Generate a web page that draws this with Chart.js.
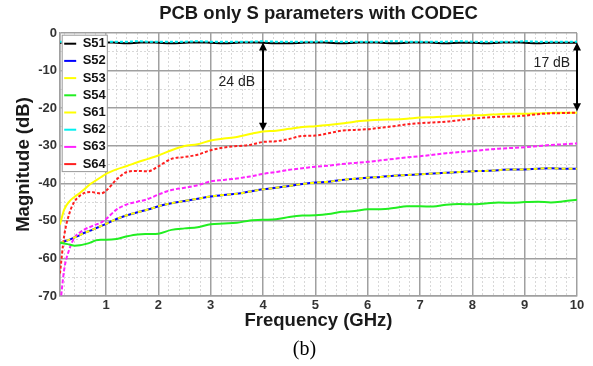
<!DOCTYPE html>
<html><head><meta charset="utf-8">
<script src="https://cdn.jsdelivr.net/npm/chart.js@4.4.0/dist/chart.umd.min.js"></script>
<style>html,body{margin:0;padding:0;background:#fff;}#wrap{width:593px;height:366px;}</style>
</head><body><div id="wrap"><canvas id="c" width="593" height="366"></canvas></div>
<script>
// ---- data ----
const freqGHz = [0.12,0.2,0.3,0.4,0.5,0.6,0.7,0.8,0.9,1.0,1.2,1.4,1.6,1.8,2.0,2.25,2.5,2.75,3.0,3.25,3.5,3.75,4.0,4.25,4.5,4.75,5.0,5.25,5.5,5.75,6.0,6.25,6.5,6.75,7.0,7.25,7.5,7.75,8.0,8.25,8.5,8.75,9.0,9.25,9.5,9.75,10.0];
const s51 = [-2.6,-2.6,-2.7,-2.6,-2.5,-2.6,-2.7,-2.7,-2.6,-2.5,-2.6,-2.7,-2.6,-2.5,-2.6,-2.7,-2.6,-2.5,-2.6,-2.7,-2.6,-2.5,-2.6,-2.7,-2.7,-2.6,-2.5,-2.6,-2.7,-2.6,-2.5,-2.6,-2.7,-2.6,-2.5,-2.6,-2.7,-2.6,-2.6,-2.7,-2.6,-2.5,-2.6,-2.7,-2.6,-2.6,-2.6];
const s52 = [-56.0,-55.5,-55.0,-54.4,-53.8,-53.1,-52.6,-52.0,-51.4,-50.8,-49.5,-48.5,-47.7,-47.0,-46.1,-45.3,-44.7,-44.1,-43.5,-43.1,-42.8,-42.2,-41.6,-41.2,-40.7,-40.2,-39.8,-39.6,-39.1,-38.8,-38.5,-38.3,-38.0,-37.8,-37.6,-37.4,-37.2,-37.0,-36.8,-36.7,-36.5,-36.3,-36.3,-36.1,-36.0,-36.1,-36.1];
const s53 = [-51.0,-47.0,-44.8,-43.6,-42.6,-41.4,-40.2,-39.3,-38.4,-37.5,-36.3,-35.4,-34.4,-33.5,-32.6,-31.2,-30.1,-29.6,-28.6,-28.1,-27.7,-26.9,-26.2,-26.0,-25.5,-25.0,-24.8,-24.5,-24.1,-23.6,-23.3,-23.1,-23.0,-22.8,-22.5,-22.4,-22.2,-22.0,-21.9,-21.8,-21.6,-21.5,-21.5,-21.4,-21.3,-21.2,-21.2];
const s54 = [-55.8,-56.0,-56.3,-56.6,-56.5,-56.2,-55.8,-55.2,-55.0,-55.0,-54.8,-54.1,-53.6,-53.5,-53.4,-52.4,-52.0,-51.7,-50.9,-50.7,-50.5,-49.9,-49.7,-49.6,-49.0,-48.6,-48.5,-48.2,-47.6,-47.4,-46.9,-46.9,-46.6,-46.1,-46.1,-46.2,-45.7,-45.5,-45.6,-45.4,-45.1,-45.2,-45.0,-44.9,-45.1,-44.8,-44.4];
const s61 = [-56.0,-55.5,-55.0,-54.4,-53.8,-53.1,-52.6,-52.0,-51.4,-50.8,-49.5,-48.5,-47.7,-47.0,-46.1,-45.3,-44.7,-44.1,-43.5,-43.1,-42.8,-42.2,-41.6,-41.2,-40.7,-40.2,-39.8,-39.6,-39.1,-38.8,-38.5,-38.3,-38.0,-37.8,-37.6,-37.4,-37.2,-37.0,-36.8,-36.7,-36.5,-36.3,-36.3,-36.1,-36.0,-36.1,-36.1];
const s62 = [-2.3,-2.3,-2.3,-2.2,-2.3,-2.3,-2.3,-2.2,-2.3,-2.3,-2.3,-2.3,-2.2,-2.3,-2.3,-2.3,-2.3,-2.2,-2.3,-2.3,-2.3,-2.3,-2.2,-2.3,-2.3,-2.3,-2.3,-2.2,-2.3,-2.3,-2.3,-2.3,-2.2,-2.3,-2.3,-2.3,-2.3,-2.2,-2.3,-2.3,-2.3,-2.3,-2.2,-2.3,-2.3,-2.3,-2.3];
const s63 = [-73.0,-63.0,-57.5,-54.4,-53.1,-52.2,-51.6,-51.0,-50.5,-49.5,-47.0,-45.6,-44.9,-44.2,-43.0,-41.8,-41.2,-40.5,-39.5,-39.1,-38.7,-38.2,-37.5,-37.0,-36.4,-36.0,-35.6,-35.3,-34.9,-34.6,-34.3,-33.9,-33.5,-33.1,-32.8,-32.4,-32.0,-31.7,-31.4,-31.1,-30.8,-30.6,-30.4,-30.1,-29.8,-29.6,-29.4];
const s64 = [-64.0,-54.0,-48.0,-44.8,-43.3,-42.5,-42.3,-42.5,-42.7,-42.0,-39.0,-37.0,-36.7,-36.8,-35.5,-33.5,-33.0,-32.4,-31.2,-30.5,-30.1,-29.8,-29.0,-28.8,-28.2,-27.4,-27.3,-26.7,-26.0,-25.8,-25.6,-25.2,-24.8,-24.3,-24.0,-23.8,-23.6,-23.2,-22.8,-22.5,-22.3,-22.2,-22.0,-21.6,-21.4,-21.3,-21.2];
const seriesNames = ['S51','S52','S53','S54','S61','S62','S63','S64'];
const seriesValues = [s51,s52,s53,s54,s61,s62,s63,s64];
const xMajorTicks = [1,2,3,4,5,6,7,8,9,10];
const yMajorTicks = [0,-10,-20,-30,-40,-50,-60,-70];
const xRange = [0.12, 10];
const yRange = [-70, 0];
const xMinorStep = 0.2;
const yMinorStep = 5;
const arrowX = [4, 10];
const arrowTop = [-2.5, -2.5];
const arrowBottom = [-26.0, -20.8];
const noteText = ['24 dB', '17 dB'];
const noteX = [3.5, 9.52];
const noteY = [-13.2, -8.0];
const titleText = 'PCB only S parameters with CODEC';
const xTitle = 'Frequency (GHz)';
const yTitle = 'Magnitude (dB)';
const captionText = '(b)';

// ---- styles ----
const colors = ['#000000','#0000ff','#ffff00','#22ee22','#ffff00','#00f0f0','#ff22ff','#ff2020'];
const dashes = [[],[],[],[],[4,3],[3,2],[4,2],[3,2]];
const orders = [9,10,8,0,0,0,0,0];
const FONT = '"Liberation Sans", Arial, sans-serif';

const datasets = seriesNames.map((n,i)=>({
  label:n,
  data: freqGHz.map((f,j)=>({x:f,y:seriesValues[i][j]})),
  borderColor:colors[i], backgroundColor:colors[i],
  borderWidth:2, borderDash:dashes[i], pointRadius:0,
  cubicInterpolationMode:'monotone', order:orders[i], fill:false
}));

function minorTicks(lo, hi, step, majors){
  const out=[];
  for(let k=Math.ceil(lo/step); k*step<=hi+1e-9; k++){
    const v=+(k*step).toFixed(4);
    if(v<=lo||v>=hi) continue;
    if(majors.some(m=>Math.abs(m-v)<1e-6)) continue;
    out.push({value:v});
  }
  return out;
}

const extras = {
  id:'extras',
  afterLayout(chart){
    const lg=chart.legend, ca=chart.chartArea;
    if(lg){ const h=lg.height; lg.top=ca.top; lg.bottom=ca.top+h; }
  },
  afterDatasetsDraw(chart){
    const ctx=chart.ctx, xs=chart.scales.x, ys=chart.scales.y;
    const lg=chart.legend;
    if(lg && lg.legendHitBoxes && lg.legendHitBoxes.length){
      const hb=lg.legendHitBoxes;
      let l=Infinity,t=Infinity,r=-Infinity,b=-Infinity;
      hb.forEach(h=>{l=Math.min(l,h.left);t=Math.min(t,h.top);r=Math.max(r,h.left+h.width);b=Math.max(b,h.top+h.height);});
      ctx.save();
      ctx.fillStyle='#fff'; ctx.strokeStyle='#9a9a9a'; ctx.lineWidth=1;
      ctx.fillRect(l-2.5,t-2.5,r-l+4,b-t+3.5);
      ctx.strokeRect(l-2,t-2,r-l+3.5,b-t+3);
      ctx.restore();
      lg.draw();
    }
    ctx.save();
    ctx.strokeStyle='#000'; ctx.fillStyle='#000'; ctx.lineWidth=2;
    arrowX.forEach((ax,i)=>{
      const px=xs.getPixelForValue(ax), y1=ys.getPixelForValue(arrowTop[i]), y2=ys.getPixelForValue(arrowBottom[i]);
      const hl=8, hw=4;
      ctx.beginPath(); ctx.moveTo(px,y1+hl-1); ctx.lineTo(px,y2-hl+1); ctx.stroke();
      ctx.beginPath(); ctx.moveTo(px,y1); ctx.lineTo(px-hw,y1+hl); ctx.lineTo(px+hw,y1+hl); ctx.closePath(); ctx.fill();
      ctx.beginPath(); ctx.moveTo(px,y2); ctx.lineTo(px-hw,y2-hl); ctx.lineTo(px+hw,y2-hl); ctx.closePath(); ctx.fill();
    });
    ctx.font='14px '+FONT; ctx.textAlign='center'; ctx.textBaseline='middle'; ctx.fillStyle='#222';
    noteText.forEach((t,i)=>{ ctx.fillText(t, xs.getPixelForValue(noteX[i]), ys.getPixelForValue(noteY[i])); });
    ctx.restore();
  },
  afterDraw(chart){
    const ctx=chart.ctx;
    ctx.save();
    ctx.font='20px "Liberation Serif", "Times New Roman", serif';
    ctx.fillStyle='#000'; ctx.textAlign='center'; ctx.textBaseline='alphabetic';
    ctx.fillText(captionText, 304.5, 355);
    ctx.restore();
  }
};

new Chart(document.getElementById('c'), {
  type:'line',
  data:{datasets},
  plugins:[extras],
  options:{
    responsive:false, animation:false, devicePixelRatio:1,
    layout:{padding:{left:11.0,right:16,top:0,bottom:34.2}},
    plugins:{
      title:{display:true,text:titleText,fullSize:false,color:'#1a1a1a',
        font:{family:FONT,size:18.5,weight:'bold'},padding:{top:3,bottom:7.8}},
      legend:{position:'chartArea',align:'start',
        labels:{usePointStyle:true,pointStyle:'line',pointStyleWidth:12,padding:4.2,color:'#111',
          font:{family:FONT,size:13,weight:'bold'},
          sort:(a,b)=>a.datasetIndex-b.datasetIndex}},
      tooltip:{enabled:false}
    },
    scales:{
      xMinor:{type:'linear',position:'bottom',min:xRange[0],max:xRange[1],
        afterBuildTicks(a){a.ticks=minorTicks(xRange[0],xRange[1],xMinorStep,xMajorTicks);},
        ticks:{display:false},grid:{color:'#d8d8d8',lineWidth:1,drawTicks:false},border:{display:false,dash:[2,2]}},
      yMinor:{type:'linear',position:'left',min:yRange[0],max:yRange[1],
        afterBuildTicks(a){a.ticks=minorTicks(yRange[0],yRange[1],yMinorStep,yMajorTicks);},
        ticks:{display:false},grid:{color:'#d8d8d8',lineWidth:1,drawTicks:false},border:{display:false,dash:[2,2]}},
      x:{type:'linear',position:'bottom',min:xRange[0],max:xRange[1],
        afterBuildTicks(a){a.ticks=[{value:xRange[0]}].concat(xMajorTicks.map(v=>({value:v})));},
        ticks:{autoSkip:false,maxRotation:0,padding:2,color:'#333',font:{family:FONT,size:13,weight:'bold'},
          callback:(v)=>xMajorTicks.includes(v)?String(v):''},
        grid:{color:'#a0a0a0',lineWidth:1.5,drawTicks:false},
        border:{display:true,color:'#a0a0a0',width:1.5},
        title:{display:true,text:xTitle,color:'#1a1a1a',font:{family:FONT,size:18.5,weight:'bold'},padding:{top:-6,bottom:0}}},
      y:{type:'linear',position:'left',min:yRange[0],max:yRange[1],
        afterBuildTicks(a){a.ticks=yMajorTicks.map(v=>({value:v}));},
        ticks:{autoSkip:false,padding:3,color:'#333',font:{family:FONT,size:13,weight:'bold'}},
        grid:{color:'#a0a0a0',lineWidth:1.5,drawTicks:false},
        border:{display:true,color:'#a0a0a0',width:1.5},
        title:{display:true,text:yTitle,color:'#1a1a1a',font:{family:FONT,size:18.5,weight:'bold'},padding:{top:2,bottom:0}}}
    }
  }
});
</script></body></html>
